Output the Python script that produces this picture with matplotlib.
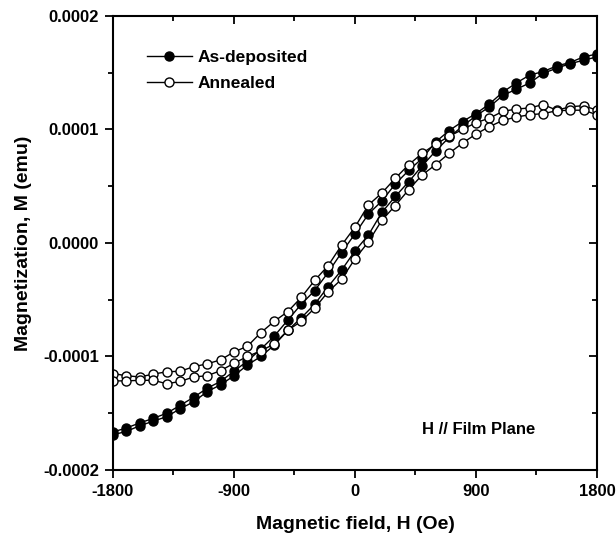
"""
plot.py
M-H hysteresis loops, as-deposited vs annealed film (H // film plane)
output: out.png
"""

import numpy as np
import matplotlib
matplotlib.use("Agg")
import matplotlib.pyplot as plt
from matplotlib.ticker import MultipleLocator, FuncFormatter

# ─── data (M in units of 1e-4 emu) ───────────────────────────────────────────
field = [-1800, -1700, -1600, -1500, -1400, -1300, -1200, -1100, -1000,
         -900, -800, -700, -600, -500, -400, -300, -200, -100, 0,
         100, 200, 300, 400, 500, 600, 700, 800, 900,
         1000, 1100, 1200, 1300, 1400, 1500, 1600, 1700, 1800]

# descending branch (+H -> -H), listed from -1800 to 1800
asdep_down = [-1.665, -1.63, -1.585, -1.545, -1.50, -1.43, -1.36, -1.28, -1.22,
              -1.13, -1.04, -0.935, -0.82, -0.68, -0.54, -0.42, -0.26, -0.085, 0.08,
              0.255, 0.37, 0.52, 0.64, 0.745, 0.89, 0.99, 1.07, 1.14,
              1.225, 1.33, 1.41, 1.48, 1.51, 1.56, 1.59, 1.64, 1.665]
# ascending branch (-H -> +H)
asdep_up = [-1.69, -1.66, -1.61, -1.57, -1.53, -1.46, -1.40, -1.31, -1.25,
            -1.17, -1.075, -1.00, -0.90, -0.77, -0.66, -0.54, -0.385, -0.24, -0.07,
            0.07, 0.27, 0.41, 0.54, 0.68, 0.81, 0.93, 1.03, 1.12,
            1.20, 1.30, 1.355, 1.41, 1.495, 1.54, 1.58, 1.61, 1.64]

annealed_down = [-1.15, -1.17, -1.18, -1.155, -1.135, -1.13, -1.09, -1.065, -1.03,
                 -0.96, -0.91, -0.79, -0.69, -0.605, -0.48, -0.33, -0.20, -0.02, 0.14,
                 0.335, 0.44, 0.57, 0.69, 0.79, 0.87, 0.94, 1.00, 1.06,
                 1.10, 1.16, 1.18, 1.19, 1.22, 1.17, 1.20, 1.21, 1.17]
annealed_up = [-1.215, -1.215, -1.21, -1.21, -1.24, -1.22, -1.18, -1.17, -1.125,
               -1.06, -1.00, -0.95, -0.89, -0.77, -0.69, -0.575, -0.43, -0.32, -0.14,
               0.01, 0.20, 0.33, 0.47, 0.60, 0.69, 0.79, 0.88, 0.96,
               1.025, 1.08, 1.11, 1.13, 1.14, 1.165, 1.17, 1.17, 1.13]

SCALE = 1e-4
FONT = "Liberation Sans"

plt.rcParams["font.family"] = [FONT, "DejaVu Sans"]
plt.rcParams["font.weight"] = "bold"


def loop(down, up):
    # full loop: descend from +Hmax, then ascend again
    h = np.concatenate([np.array(field)[::-1], np.array(field)])
    m = np.concatenate([np.array(down)[::-1], np.array(up)]) * SCALE
    return h, m


fig = plt.figure(figsize=(6.16, 5.5), dpi=100)
ax = fig.add_axes([0.1834, 0.1455, 0.7857, 0.8254])

h, m = loop(asdep_down, asdep_up)
ax.plot(h, m, color="black", lw=1.0, marker="o", ms=6.5,
        mfc="black", mec="black", mew=1.0, label="As-deposited")
h, m = loop(annealed_down, annealed_up)
ax.plot(h, m, color="black", lw=1.0, marker="o", ms=6.5,
        mfc="white", mec="black", mew=1.0, label="Annealed")

ax.set_xlim(-1800, 1800)
ax.set_ylim(-0.0002, 0.0002)

ax.xaxis.set_major_locator(MultipleLocator(900))
ax.xaxis.set_minor_locator(MultipleLocator(450))
ax.yaxis.set_major_locator(MultipleLocator(0.0001))
ax.yaxis.set_minor_locator(MultipleLocator(0.00005))
ax.xaxis.set_major_formatter(FuncFormatter(lambda v, p: "%d" % round(v)))
ax.yaxis.set_major_formatter(FuncFormatter(lambda v, p: "%.4f" % (0.0 if abs(v) < 1e-12 else v)))

for sp in ax.spines.values():
    sp.set_linewidth(1.5)

ax.tick_params(which="both", top=True, right=True, width=1.3)
ax.tick_params(which="major", direction="out", length=6, labelsize=12, pad=4)
ax.tick_params(which="minor", direction="out", length=3.5)
# ticks on top/right point inwards
for t in ax.xaxis.get_major_ticks() + ax.xaxis.get_minor_ticks():
    t.tick2line.set_marker(matplotlib.lines.TICKDOWN)
for t in ax.yaxis.get_major_ticks() + ax.yaxis.get_minor_ticks():
    t.tick2line.set_marker(matplotlib.lines.TICKLEFT)
for lab in ax.get_xticklabels() + ax.get_yticklabels():
    lab.set_fontweight("bold")

ax.set_xlabel("Magnetic field, H (Oe)", fontsize=14, fontweight="bold", labelpad=12)
ax.set_ylabel("Magnetization, M (emu)", fontsize=14, fontweight="bold", labelpad=8)

ax.legend(loc="upper left", bbox_to_anchor=(0.055, 0.94), frameon=False,
          handlelength=2.6, handletextpad=0.35,
          labelspacing=0.6, borderaxespad=0,
          prop={"family": FONT, "weight": "bold", "size": 12.5})

ax.text(0.755, 0.09, "H // Film Plane", transform=ax.transAxes,
        ha="center", va="center", fontsize=12, fontweight="bold")

fig.savefig("out.png", dpi=100)
